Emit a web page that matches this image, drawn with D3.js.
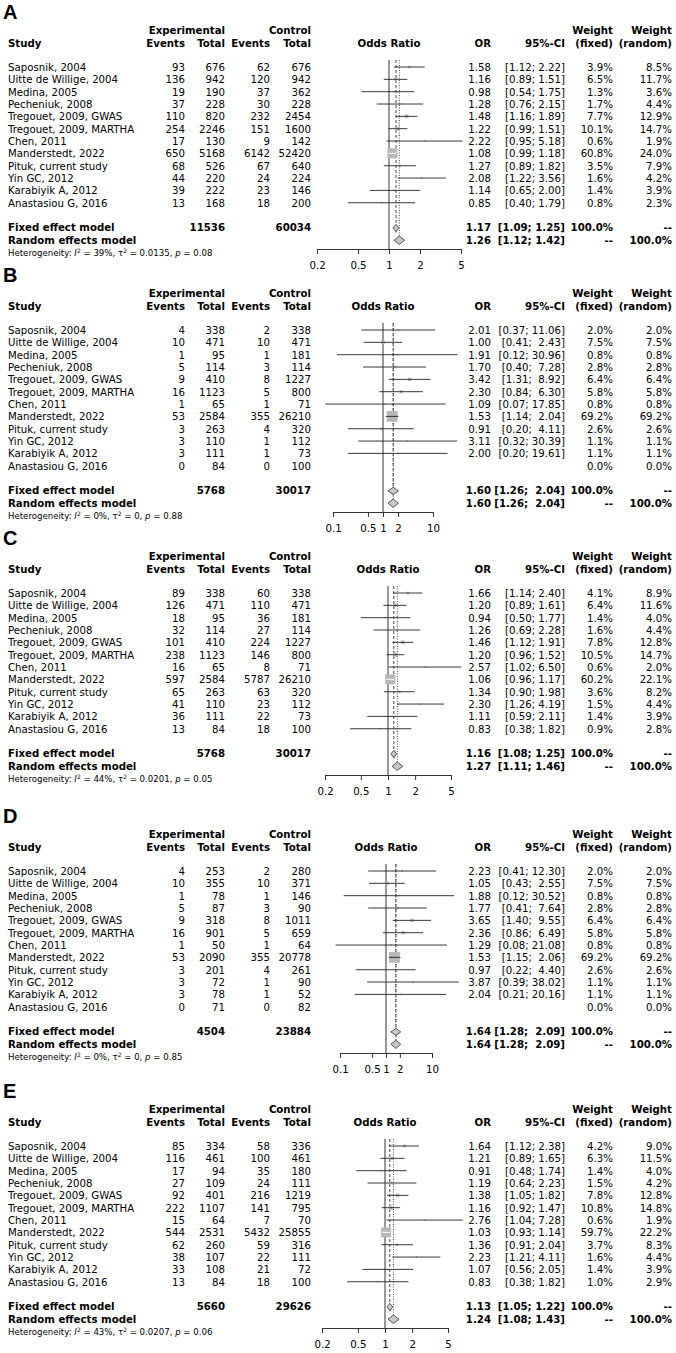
<!DOCTYPE html>
<html>
<head>
<meta charset="utf-8">
<script src="https://cdn.jsdelivr.net/npm/d3@7"></script>
<style>
  body { margin: 0; background: #fff; }
  text { font-family: "DejaVu Sans", sans-serif; font-size: 10.2px; fill: #000; }
</style>
</head>
<body>
<div id="chart"></div>
<script>
// ---- data ----
const studies = ["Saposnik, 2004", "Uitte de Willige, 2004", "Medina, 2005", "Pecheniuk, 2008",
  "Tregouet, 2009, GWAS", "Tregouet, 2009, MARTHA", "Chen, 2011", "Manderstedt, 2022",
  "Pituk, current study", "Yin GC, 2012", "Karabiyik A, 2012", "Anastasiou G, 2016"];

// Panel A
const aExpEvents = [93, 136, 19, 37, 110, 254, 17, 650, 68, 44, 39, 13];
const aExpTotal = [676, 942, 190, 228, 820, 2246, 130, 5168, 526, 220, 222, 168];
const aCtlEvents = [62, 120, 37, 30, 232, 151, 9, 6142, 67, 24, 23, 18];
const aCtlTotal = [676, 942, 362, 228, 2454, 1600, 142, 52420, 640, 224, 146, 200];
const aOR = [1.58, 1.16, 0.98, 1.28, 1.48, 1.22, 2.22, 1.08, 1.27, 2.08, 1.14, 0.85];
const aLow = [1.12, 0.89, 0.54, 0.76, 1.16, 0.99, 0.95, 0.99, 0.89, 1.22, 0.65, 0.40];
const aHigh = [2.22, 1.51, 1.75, 2.15, 1.89, 1.51, 5.18, 1.18, 1.82, 3.56, 2.00, 1.79];
const aWFixed = [3.9, 6.5, 1.3, 1.7, 7.7, 10.1, 0.6, 60.8, 3.5, 1.6, 1.4, 0.8];
const aWRandom = [8.5, 11.7, 3.6, 4.4, 12.9, 14.7, 1.9, 24.0, 7.9, 4.2, 3.9, 2.3];
const aTotals = [11536, 60034];
const aFixed = [1.17, 1.09, 1.25];
const aRandom = [1.26, 1.12, 1.42];
const aHet = ["39%", "0.0135", "0.08"];
const aTicks = [0.2, 0.5, 1, 2, 5];

// Panel B
const bExpEvents = [4, 10, 1, 5, 9, 16, 1, 53, 3, 3, 3, 0];
const bExpTotal = [338, 471, 95, 114, 410, 1123, 65, 2584, 263, 110, 111, 84];
const bCtlEvents = [2, 10, 1, 3, 8, 5, 1, 355, 4, 1, 1, 0];
const bCtlTotal = [338, 471, 181, 114, 1227, 800, 71, 26210, 320, 112, 73, 100];
const bOR = [2.01, 1.00, 1.91, 1.70, 3.42, 2.30, 1.09, 1.53, 0.91, 3.11, 2.00, null];
const bLow = [0.37, 0.41, 0.12, 0.40, 1.31, 0.84, 0.07, 1.14, 0.20, 0.32, 0.20, null];
const bHigh = [11.06, 2.43, 30.96, 7.28, 8.92, 6.30, 17.85, 2.04, 4.11, 30.39, 19.61, null];
const bWFixed = [2.0, 7.5, 0.8, 2.8, 6.4, 5.8, 0.8, 69.2, 2.6, 1.1, 1.1, 0.0];
const bWRandom = [2.0, 7.5, 0.8, 2.8, 6.4, 5.8, 0.8, 69.2, 2.6, 1.1, 1.1, 0.0];
const bTotals = [5768, 30017];
const bFixed = [1.60, 1.26, 2.04];
const bRandom = [1.60, 1.26, 2.04];
const bHet = ["0%", "0", "0.88"];
const bTicks = [0.1, 0.5, 1, 2, 10];

// Panel C
const cExpEvents = [89, 126, 18, 32, 101, 238, 16, 597, 65, 41, 36, 13];
const cExpTotal = [338, 471, 95, 114, 410, 1123, 65, 2584, 263, 110, 111, 84];
const cCtlEvents = [60, 110, 36, 27, 224, 146, 8, 5787, 63, 23, 22, 18];
const cCtlTotal = [338, 471, 181, 114, 1227, 800, 71, 26210, 320, 112, 73, 100];
const cOR = [1.66, 1.20, 0.94, 1.26, 1.46, 1.20, 2.57, 1.06, 1.34, 2.30, 1.11, 0.83];
const cLow = [1.14, 0.89, 0.50, 0.69, 1.12, 0.96, 1.02, 0.96, 0.90, 1.26, 0.59, 0.38];
const cHigh = [2.40, 1.61, 1.77, 2.28, 1.91, 1.52, 6.50, 1.17, 1.98, 4.19, 2.11, 1.82];
const cWFixed = [4.1, 6.4, 1.4, 1.6, 7.8, 10.5, 0.6, 60.2, 3.6, 1.5, 1.4, 0.9];
const cWRandom = [8.9, 11.6, 4.0, 4.4, 12.8, 14.7, 2.0, 22.1, 8.2, 4.4, 3.9, 2.8];
const cTotals = [5768, 30017];
const cFixed = [1.16, 1.08, 1.25];
const cRandom = [1.27, 1.11, 1.46];
const cHet = ["44%", "0.0201", "0.05"];
const cTicks = [0.2, 0.5, 1, 2, 5];

// Panel D
const dExpEvents = [4, 10, 1, 5, 9, 16, 1, 53, 3, 3, 3, 0];
const dExpTotal = [253, 355, 78, 87, 318, 901, 50, 2090, 201, 72, 78, 71];
const dCtlEvents = [2, 10, 1, 3, 8, 5, 1, 355, 4, 1, 1, 0];
const dCtlTotal = [280, 371, 146, 90, 1011, 659, 64, 20778, 261, 90, 52, 82];
const dOR = [2.23, 1.05, 1.88, 1.77, 3.65, 2.36, 1.29, 1.53, 0.97, 3.87, 2.04, null];
const dLow = [0.41, 0.43, 0.12, 0.41, 1.40, 0.86, 0.08, 1.15, 0.22, 0.39, 0.21, null];
const dHigh = [12.30, 2.55, 30.52, 7.64, 9.55, 6.49, 21.08, 2.06, 4.40, 38.02, 20.16, null];
const dWFixed = [2.0, 7.5, 0.8, 2.8, 6.4, 5.8, 0.8, 69.2, 2.6, 1.1, 1.1, 0.0];
const dWRandom = [2.0, 7.5, 0.8, 2.8, 6.4, 5.8, 0.8, 69.2, 2.6, 1.1, 1.1, 0.0];
const dTotals = [4504, 23884];
const dFixed = [1.64, 1.28, 2.09];
const dRandom = [1.64, 1.28, 2.09];
const dHet = ["0%", "0", "0.85"];
const dTicks = [0.1, 0.5, 1, 2, 10];

// Panel E
const eExpEvents = [85, 116, 17, 27, 92, 222, 15, 544, 62, 38, 33, 13];
const eExpTotal = [334, 461, 94, 109, 401, 1107, 64, 2531, 260, 107, 108, 84];
const eCtlEvents = [58, 100, 35, 24, 216, 141, 7, 5432, 59, 22, 21, 18];
const eCtlTotal = [336, 461, 180, 111, 1219, 795, 70, 25855, 316, 111, 72, 100];
const eOR = [1.64, 1.21, 0.91, 1.19, 1.38, 1.16, 2.76, 1.03, 1.36, 2.23, 1.07, 0.83];
const eLow = [1.12, 0.89, 0.48, 0.64, 1.05, 0.92, 1.04, 0.93, 0.91, 1.21, 0.56, 0.38];
const eHigh = [2.38, 1.65, 1.74, 2.23, 1.82, 1.47, 7.28, 1.14, 2.04, 4.11, 2.05, 1.82];
const eWFixed = [4.2, 6.3, 1.4, 1.5, 7.8, 10.8, 0.6, 59.7, 3.7, 1.6, 1.4, 1.0];
const eWRandom = [9.0, 11.5, 4.0, 4.2, 12.8, 14.8, 1.9, 22.2, 8.3, 4.4, 3.9, 2.9];
const eTotals = [5660, 29626];
const eFixed = [1.13, 1.05, 1.22];
const eRandom = [1.24, 1.08, 1.43];
const eHet = ["43%", "0.0207", "0.06"];
const eTicks = [0.2, 0.5, 1, 2, 5];

const panels = [
  { label: "A", expEvents: aExpEvents, expTotal: aExpTotal, ctlEvents: aCtlEvents, ctlTotal: aCtlTotal,
    or: aOR, low: aLow, high: aHigh, wf: aWFixed, wr: aWRandom, totals: aTotals, fixed: aFixed, random: aRandom, het: aHet, ticks: aTicks },
  { label: "B", expEvents: bExpEvents, expTotal: bExpTotal, ctlEvents: bCtlEvents, ctlTotal: bCtlTotal,
    or: bOR, low: bLow, high: bHigh, wf: bWFixed, wr: bWRandom, totals: bTotals, fixed: bFixed, random: bRandom, het: bHet, ticks: bTicks },
  { label: "C", expEvents: cExpEvents, expTotal: cExpTotal, ctlEvents: cCtlEvents, ctlTotal: cCtlTotal,
    or: cOR, low: cLow, high: cHigh, wf: cWFixed, wr: cWRandom, totals: cTotals, fixed: cFixed, random: cRandom, het: cHet, ticks: cTicks },
  { label: "D", expEvents: dExpEvents, expTotal: dExpTotal, ctlEvents: dCtlEvents, ctlTotal: dCtlTotal,
    or: dOR, low: dLow, high: dHigh, wf: dWFixed, wr: dWRandom, totals: dTotals, fixed: dFixed, random: dRandom, het: dHet, ticks: dTicks },
  { label: "E", expEvents: eExpEvents, expTotal: eExpTotal, ctlEvents: eCtlEvents, ctlTotal: eCtlTotal,
    or: eOR, low: eLow, high: eHigh, wf: eWFixed, wr: eWRandom, totals: eTotals, fixed: eFixed, random: eRandom, het: eHet, ticks: eTicks }
];

// ---- layout ----
const width = 676, height = 1353;
const panelTop = [0, 263, 526, 804, 1079];
const plotRange = [[317, 461], [333, 433], [325, 451], [340, 432], [322, 448]];
const col = { study: 8, expEv: 185, expTot: 225, ctlEv: 270, ctlTot: 311, or: 491, ci: 565, wf: 613, wr: 672 };
const rowStep = 12.34;

const svg = d3.select("#chart").append("svg")
  .attr("width", width)
  .attr("height", height);

const f2 = d3.format(".2f");
const f1 = d => d3.format(".1f")(d) + "%";

function drawPanel(p, idx) {
  const top = panelTop[idx];
  const g = svg.append("g").attr("transform", `translate(0,${top})`);
  const x = d3.scaleLog().domain([p.ticks[0], p.ticks[p.ticks.length - 1]]).range(plotRange[idx]);
  const rowY = i => 71 + i * rowStep;   // text baseline of row i
  const midX = x(1);

  // panel letter
  g.append("text").attr("x", 3).attr("y", 19)
    .style("font-family", "'Liberation Sans', Arial, sans-serif")
    .style("font-weight", "bold").style("font-size", "20px")
    .text(p.label);

  // headers
  const bold = sel => sel.style("font-weight", "bold");
  const hdr = (txt, xx, yy, anchor) => g.append("text").attr("x", xx).attr("y", yy)
    .attr("text-anchor", anchor).call(bold).text(txt);
  hdr("Experimental", col.expTot, 34, "end");
  hdr("Control", col.ctlTot, 34, "end");
  hdr("Weight", col.wf, 34, "end");
  hdr("Weight", col.wr, 34, "end");
  hdr("Study", col.study, 46.5, "start");
  hdr("Events", col.expEv, 46.5, "end");
  hdr("Total", col.expTot, 46.5, "end");
  hdr("Events", col.ctlEv, 46.5, "end");
  hdr("Total", col.ctlTot, 46.5, "end");
  hdr("Odds Ratio", (plotRange[idx][0] + plotRange[idx][1]) / 2, 46.5, "middle");
  hdr("OR", col.or, 46.5, "end");
  hdr("95%-CI", col.ci, 46.5, "end");
  hdr("(fixed)", col.wf, 46.5, "end");
  hdr("(random)", col.wr, 46.5, "end");

  // CI string padding like R's formatting
  const highs = p.high.filter(d => d != null).concat([p.fixed[2], p.random[2]]).map(f2);
  const maxLen = d3.max(highs, s => s.length);
  const ciText = (lo, hi) => {
    const h = f2(hi);
    return "[" + f2(lo) + "; " + " ".repeat(maxLen - h.length) + h + "]";
  };

  const yFixed = rowY(13), yRandom = rowY(14);
  const axisY = 249;
  const lineTop = 60;

  // reference lines
  g.append("line").attr("x1", midX).attr("x2", midX).attr("y1", lineTop).attr("y2", axisY)
    .attr("stroke", "#333").attr("stroke-width", 1);
  g.append("line").attr("x1", x(p.fixed[0])).attr("x2", x(p.fixed[0]))
    .attr("y1", lineTop).attr("y2", yFixed + 1)
    .attr("stroke", "#333").attr("stroke-width", 0.9).attr("stroke-dasharray", "3,2");
  g.append("line").attr("x1", x(p.random[0])).attr("x2", x(p.random[0]))
    .attr("y1", lineTop).attr("y2", yRandom + 1)
    .attr("stroke", "#333").attr("stroke-width", 0.9).attr("stroke-dasharray", "1,1.5");

  // study rows
  const rows = studies.map((s, i) => ({
    study: s, ee: p.expEvents[i], et: p.expTotal[i], ce: p.ctlEvents[i], ct: p.ctlTotal[i],
    or: p.or[i], lo: p.low[i], hi: p.high[i], wf: p.wf[i], wr: p.wr[i], i: i
  }));

  const rg = g.selectAll("g.row").data(rows).enter().append("g").attr("class", "row");
  const cell = (key, xx, anchor) => rg.append("text").attr("x", xx).attr("y", d => rowY(d.i))
    .attr("text-anchor", anchor).style("white-space", "pre").text(key);
  cell(d => d.study, col.study, "start");
  cell(d => d.ee, col.expEv, "end");
  cell(d => d.et, col.expTot, "end");
  cell(d => d.ce, col.ctlEv, "end");
  cell(d => d.ct, col.ctlTot, "end");
  cell(d => d.or == null ? "" : f2(d.or), col.or, "end");
  cell(d => d.or == null ? "" : ciText(d.lo, d.hi), col.ci, "end");
  cell(d => f1(d.wf), col.wf, "end");
  cell(d => f1(d.wr), col.wr, "end");

  // squares and CI lines
  const est = rows.filter(d => d.or != null);
  const side = d => Math.max(1.3 * Math.sqrt(d.wf), 1.6);
  g.selectAll("rect.sq").data(est).enter().append("rect").attr("class", "sq")
    .attr("x", d => x(d.or) - side(d) / 2)
    .attr("y", d => rowY(d.i) - 4 - side(d) / 2)
    .attr("width", side).attr("height", side)
    .attr("fill", "#b8b8b8");
  g.selectAll("line.ci").data(est).enter().append("line").attr("class", "ci")
    .attr("x1", d => x(d.lo)).attr("x2", d => x(d.hi))
    .attr("y1", d => rowY(d.i) - 4).attr("y2", d => rowY(d.i) - 4)
    .attr("stroke", d => (x(d.or) - side(d) / 2 < x(d.lo) && x(d.or) + side(d) / 2 > x(d.hi)) ? "#fff" : "#222")
    .attr("stroke-width", 0.9);

  // pooled rows
  const pooled = [
    { name: "Fixed effect model", v: p.fixed, y: yFixed, wf: "100.0%", wr: "--", h: 3.6 },
    { name: "Random effects model", v: p.random, y: yRandom, wf: "--", wr: "100.0%", h: 4.2 }
  ];
  pooled.forEach((d, k) => {
    g.append("text").attr("x", col.study).attr("y", d.y).call(bold).text(d.name);
    if (k === 0) {
      g.append("text").attr("x", col.expTot).attr("y", d.y).attr("text-anchor", "end").call(bold).text(p.totals[0]);
      g.append("text").attr("x", col.ctlTot).attr("y", d.y).attr("text-anchor", "end").call(bold).text(p.totals[1]);
    }
    g.append("text").attr("x", col.or).attr("y", d.y).attr("text-anchor", "end").call(bold).text(f2(d.v[0]));
    g.append("text").attr("x", col.ci).attr("y", d.y).attr("text-anchor", "end").call(bold)
      .style("white-space", "pre").text(ciText(d.v[1], d.v[2]));
    g.append("text").attr("x", col.wf).attr("y", d.y).attr("text-anchor", "end").call(bold).text(d.wf);
    g.append("text").attr("x", col.wr).attr("y", d.y).attr("text-anchor", "end").call(bold).text(d.wr);
    const cy = d.y - 3.5;
    g.append("polygon")
      .attr("points", [[x(d.v[1]), cy], [x(d.v[0]), cy - d.h], [x(d.v[2]), cy], [x(d.v[0]), cy + d.h]].map(q => q.join(",")).join(" "))
      .attr("fill", "#c8c8c8").attr("stroke", "#333").attr("stroke-width", 0.8);
  });

  // heterogeneity
  const het = g.append("text").attr("x", col.study).attr("y", rowY(15)).style("font-size", "8.6px");
  het.append("tspan").text("Heterogeneity: ");
  het.append("tspan").style("font-style", "italic").text("I");
  het.append("tspan").attr("dy", -3.5).style("font-size", "6px").text("2");
  het.append("tspan").attr("dy", 3.5).text(` = ${p.het[0]}, \u03c4`);
  het.append("tspan").attr("dy", -3.5).style("font-size", "6px").text("2");
  het.append("tspan").attr("dy", 3.5).text(` = ${p.het[1]}, `);
  het.append("tspan").style("font-style", "italic").text("p");
  het.append("tspan").text(` = ${p.het[2]}`);

  // x axis
  const ax = g.append("g").attr("transform", `translate(0,${axisY})`)
    .call(d3.axisBottom(x).tickValues(p.ticks).tickSize(5).tickSizeOuter(0).tickPadding(8)
      .tickFormat(d3.format("~g")));
  ax.select(".domain").attr("stroke", "#333");
  ax.selectAll(".tick line").attr("stroke", "#333");
  ax.selectAll(".tick text").style("font-family", "'DejaVu Sans', sans-serif").style("font-size", "10.2px").attr("fill", "#000");
}

panels.forEach(drawPanel);
</script>
</body>
</html>
